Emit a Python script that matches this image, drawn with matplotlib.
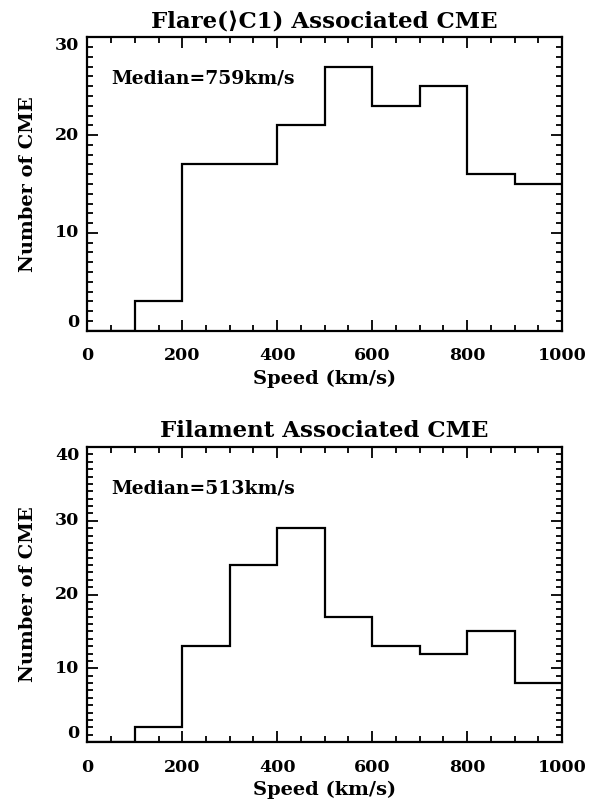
import matplotlib
matplotlib.use("Agg")
import matplotlib.pyplot as plt
import matplotlib.transforms as mtransforms
from matplotlib.ticker import MultipleLocator, NullFormatter

# Data
speed_edges = [0, 100, 200, 300, 400, 500, 600, 700, 800, 900, 1000]
flare_counts = [0, 3, 17, 17, 21, 27, 23, 25, 16, 15]
filament_counts = [0, 2, 13, 24, 29, 17, 13, 12, 15, 8]
titles = ["Flare(\u27e9C1) Associated CME", "Filament Associated CME"]
medians = ["Median=759km/s", "Median=513km/s"]
ymax = [30, 40]
x_ticks = [0, 200, 400, 600, 800, 1000]

FONT = ["DejaVu Serif", "DejaVu Sans"]
plt.rcParams['font.family'] = FONT
plt.rcParams['font.weight'] = 'bold'

W, H = 592, 802
fig = plt.figure(figsize=(W / 100, H / 100), dpi=100)

def px_axes(left, top, right, bottom):
    return fig.add_axes([left / W, 1 - bottom / H, (right - left) / W, (bottom - top) / H])

ax1 = px_axes(87.3, 37.3, 562, 330.7)
ax2 = px_axes(87.3, 447, 562, 742)

panels = [(ax1, flare_counts, titles[0], medians[0], ymax[0]),
          (ax2, filament_counts, titles[1], medians[1], ymax[1])]

for ax, counts, title, med, ym in panels:
    ax.stairs(counts, speed_edges, baseline=None, color="black", linewidth=1.6)
    ax.set_xlim(0, 1000)
    ax.set_ylim(0, ym)
    ax.set_xticks(x_ticks)
    ax.xaxis.set_minor_locator(MultipleLocator(50))
    ax.yaxis.set_major_locator(MultipleLocator(10))
    ax.yaxis.set_minor_locator(MultipleLocator(1))
    ax.yaxis.set_major_formatter(NullFormatter())
    ax.tick_params(which="both", direction="in", top=True, right=True, width=1.3, colors="black")
    ax.tick_params(which="major", length=8)
    ax.tick_params(which="minor", length=4.5)
    ax.tick_params(axis="x", which="major", pad=12, labelsize=12.5)
    for s in ax.spines.values():
        s.set_linewidth(1.6)
    ax.set_title(title, fontsize=16.5, pad=7, fontweight="bold")
    ax.set_xlabel("Speed (km/s)", fontsize=14, labelpad=4, fontweight="bold")
    ax.set_ylabel("Number of CME", fontsize=14, fontweight="bold")
    ax.yaxis.set_label_coords(-0.105, 0.5)
    ax.text(50, ym * 0.86, med, fontsize=13.5, va="center", ha="left", fontweight="bold")
    # y tick labels (end labels kept inside the axis span, as in the original)
    trans = mtransforms.blended_transform_factory(ax.transAxes, ax.transData)
    yt = list(range(0, ym + 1, 10))
    for v in yt:
        va = "center"
        if v == yt[0]:
            va = "bottom"
        elif v == yt[-1]:
            va = "top"
        ax.text(-0.017, v, str(v), transform=trans, ha="right", va=va,
                fontsize=12.5, fontweight="bold")

fig.savefig("out.png", dpi=100)
